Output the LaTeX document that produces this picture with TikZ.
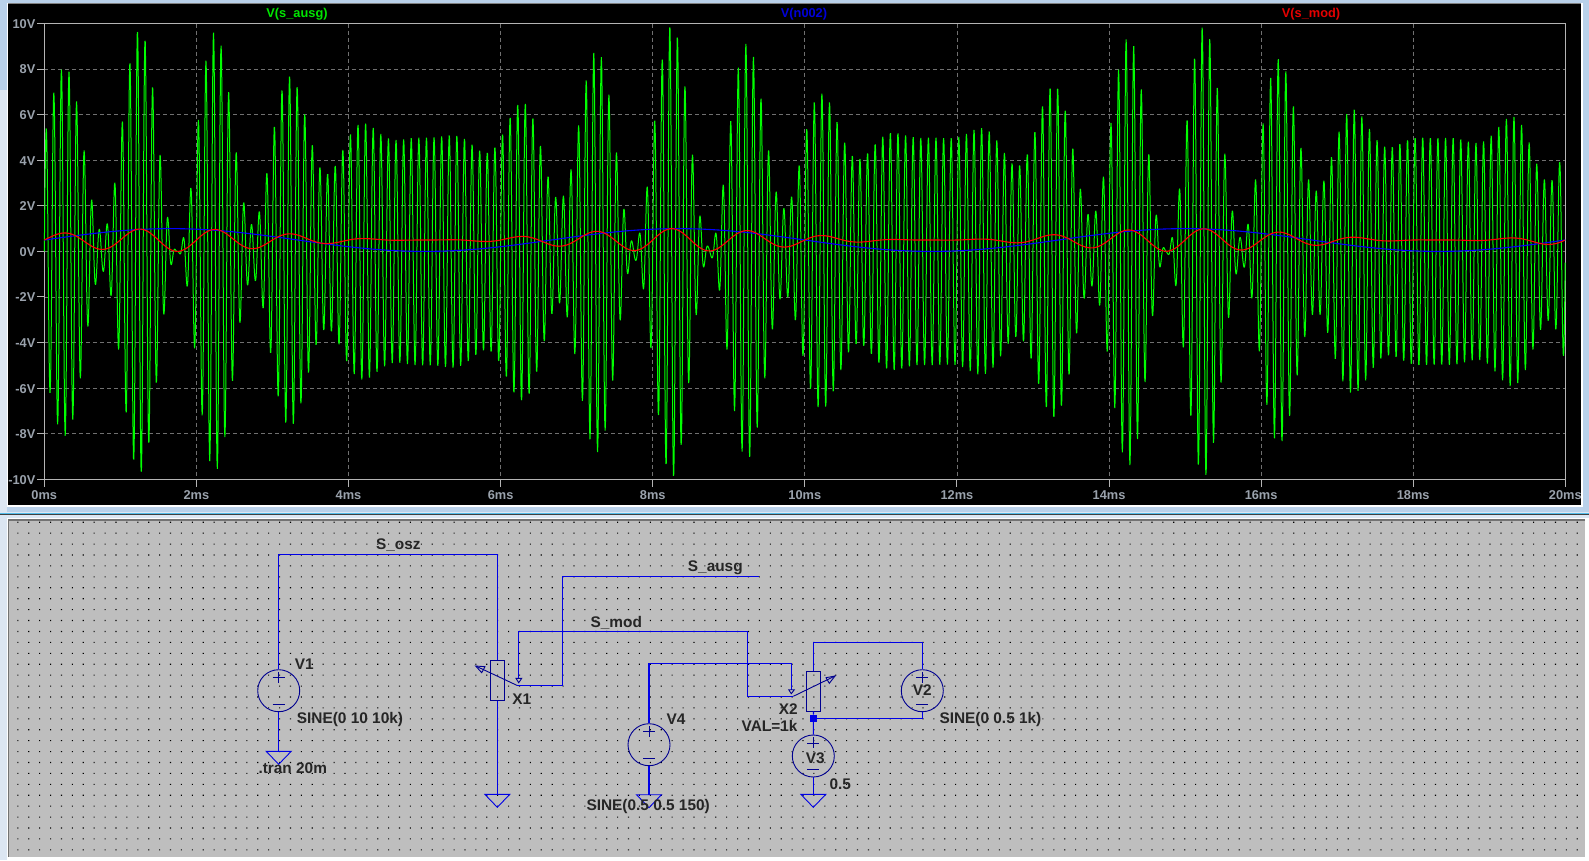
\documentclass[tikz,border=0pt]{standalone}
\usepackage{fontspec}
\setmainfont{Liberation Sans}
\definecolor{winblue}{HTML}{B9D1EA}
\definecolor{winpale}{HTML}{DCE6F2}
\definecolor{sheet}{HTML}{BEBEBE}
\definecolor{gridgray}{HTML}{707070}
\definecolor{axisgray}{HTML}{B4B4B4}
\definecolor{ticklab}{HTML}{9AA2AC}
\definecolor{wireblue}{HTML}{0000E6}
\definecolor{symblue}{HTML}{000090}
\definecolor{tracegreen}{HTML}{00FF00}
\tikzset{
  wire/.style={draw=wireblue,line width=1.1pt},
  sym/.style={draw=symblue,line width=0.9pt},
  vsrc/.style={circle,draw=symblue,line width=0.9pt,minimum size=42pt,inner sep=0pt},
  pot/.style={rectangle,draw=symblue,line width=1pt,minimum width=13.4pt,minimum height=40pt,inner sep=0pt},
  lab/.style={font=\bfseries\fontsize{15.4}{16}\selectfont,text=black!85,inner sep=0pt},
  ticktxt/.style={font=\bfseries\fontsize{12.8}{14}\selectfont,text=ticklab,inner sep=0pt},
  title/.style={font=\bfseries\fontsize{12.8}{14}\selectfont,inner sep=0pt},
  griddash/.style={draw=gridgray,line width=0.8pt,dash pattern=on 4pt off 3pt},
}
\begin{document}
\begin{tikzpicture}[x=1pt,y=-1pt]
\useasboundingbox (0,0) rectangle (1589,860);
% window background
\fill[winblue] (0,0) rectangle (1589,512);
\fill[winpale] (0,90) rectangle (7,512);
\fill[winpale] (0,512) rectangle (1589,860);
\fill[white] (7,3) rectangle (1583,507);
\fill[black] (8,4) rectangle (1581,505);
\fill[gray] (8,3) rectangle (1581,4);
\fill[cyan!60!winblue] (0,512.5) rectangle (1589,514);
\fill[black!75] (0,514) rectangle (1589,515);
% schematic sheet
\fill[white] (7,518) rectangle (1589,860);
\fill[sheet] (8,519) rectangle (1585,857);
\fill[black!55] (8,519) rectangle (1585,520.5);
\fill[black!55] (8,519) rectangle (9,857);
\fill[black]
  \foreach \i in {0,...,143} { \foreach \j in {0,...,30} {
    (17.3+10.905*\i,521.7+10.92*\j) rectangle ++(1.1,1.1) } };
% axes and grid
\foreach \k in {1,...,9} {
  \draw[griddash] (44.3+152.1*\k,23.5) -- (44.3+152.1*\k,479.3);
  \draw[griddash] (44.3,23.5+45.58*\k) -- (1565.3,23.5+45.58*\k);
}
\draw[axisgray,line width=1pt] (44.3,23.5) rectangle (1565.3,479.3);
\foreach \k in {0,...,10} {
  \draw[axisgray,line width=1pt] (37,23.5+45.58*\k) -- (44.3,23.5+45.58*\k);
  \draw[axisgray,line width=1pt] (44.3+152.1*\k,479.3) -- (44.3+152.1*\k,487);
}
\foreach \v [count=\k from 0] in {10V,8V,6V,4V,2V,0V,-2V,-4V,-6V,-8V,-10V}
  \node[ticktxt,anchor=east] (ylab\k) at (35.5,24+45.58*\k) {\v};
\foreach \v [count=\k from 0] in {0ms,2ms,4ms,6ms,8ms,10ms,12ms,14ms,16ms,18ms,20ms}
  \node[ticktxt] (xlab\k) at (44.3+152.1*\k,495.5) {\v};
\node[title,text=tracegreen!90!black] (t1) at (297,14.5) {V(s\_ausg)};
\node[title,text=blue!85!black] (t2) at (804,14.5) {V(n002)};
\node[title,text=red!90!black] (t3) at (1311,14.5) {V(s\_mod)};
% traces
\begin{scope}[shift={(44.3,251.4)},x=76.05pt,y=22.78pt]
\draw[tracegreen,line width=1pt,line join=bevel] plot[domain=0:20,samples=4001]
  (\x,{10*sin(360*frac(10*\x))*(0.5+0.5*sin(360*\x)*(0.5+0.5*sin(54*\x)))});
\draw[blue,line width=1.1pt] plot[domain=0:20,samples=301] (\x,{0.5+0.5*sin(54*\x)});
\draw[red,line width=1.1pt] plot[domain=0:20,samples=601]
  (\x,{0.5+0.5*sin(360*\x)*(0.5+0.5*sin(54*\x))});
\end{scope}
% schematic parts
\node[vsrc] (V1) at (278.7,690.7) {};
\node[vsrc] (V2) at (922.3,690.7) {};
\node[vsrc] (V3) at (813.3,756) {};
\node[vsrc] (V4) at (649,744.7) {};
\node[pot] (X1) at (497.3,680.2) {};
\node[pot] (X2) at (813.5,691) {};
\foreach \s in {V1,V2,V3,V4} {
  \draw[sym] ([yshift=13pt,xshift=-6pt]\s.center) -- ++(12,0);
  \draw[sym] ([yshift=19pt]\s.center) -- ++(0,11);
  \draw[sym] ([yshift=-13.5pt,xshift=-6pt]\s.center) -- ++(12,0);
}
\coordinate (G1) at (278.7,751.3);
\coordinate (G2) at (497.3,794.3);
\coordinate (G3) at (813.3,794.3);
\coordinate (G4) at (649,794.7);
\foreach \g in {G1,G2,G3,G4}
  \draw[sym,draw=wireblue] (\g) ++(-12.5,0) -- ++(25,0) -- ++(-12.5,13) -- cycle;
\node[fill=wireblue,inner sep=0pt,minimum size=7pt] (J1) at (813.3,718.3) {};
% wires
\coordinate (oszTop) at (497.3,554.3);
\coordinate (wip1) at (517.3,685.5);
\coordinate (wip2) at (793.3,696.3);
\coordinate (tip1) at (518.3,678.3);
\coordinate (tip2) at (791.3,689.7);
\coordinate (ausgEnd) at (759,576.3);
\coordinate (modTop) at (747.3,631.7);
\coordinate (v4Top) at (791.3,663.7);
\coordinate (x2Top) at (922.3,642.7);
\draw[wire] (V1.north) |- (oszTop) -- (X1.north);
\draw[wire] (X1.south) -- (G2);
\draw[wire] (V1.south) -- (G1);
\draw[wire] (V4.south) -- (G4);
\draw[wire] (V3.south) -- (G3);
\draw[wire] (wip1) -| (562.7,576.3) -- (ausgEnd);
\draw[wire] (tip1) |- (modTop) |- (wip2);
\draw[wire] (V4.north) |- (v4Top) -- (tip2);
\draw[wire] (X2.north) |- (x2Top) -- (V2.north);
\draw[wire] (V2.south) |- (J1);
\draw[wire] (X2.south) -- (J1) -- (V3.north);
% wiper arrows
\draw[sym] (wip1) -- (475.7,666);
\draw[sym] (475.7,666) -- (485,666.7) -- (481.7,672.7) -- cycle;
\draw[sym] (516,678.3) -- (521.7,678.3) -- (518.7,682.7) -- cycle;
\draw[sym] (wip2) -- (835,676);
\draw[sym] (835,676) -- (826,677.7) -- (829.3,683.3) -- cycle;
\draw[sym] (788.7,689.7) -- (794.3,689.7) -- (791.3,693.7) -- cycle;
% labels
\node[lab] (lV1) at (304.3,664) {V1};
\node[lab] (lV4) at (676,719) {V4};
\node[lab] (lV2) at (922.3,690) {V2};
\node[lab] (lV3) at (815.3,757.7) {V3};
\node[lab] (lX1) at (521.7,699) {X1};
\node[lab] (lX2) at (788.3,709) {X2};
\node[lab,anchor=east] (lVal) at (797.7,726) {VAL=1k};
\node[lab,anchor=west] (lS1) at (296.7,719.3) {SINE(0 10 10k)};
\node[lab,anchor=west] (lTran) at (258.3,768) {.tran 20m};
\node[lab,anchor=west] (lS2) at (939.3,719.7) {SINE(0 0.5 1k)};
\node[lab,anchor=west] (lDc) at (829.3,784) {0.5};
\node[lab,anchor=west] (lS4) at (586.3,806.3) {SINE(0.5 0.5 150)};
\node[lab] (nOsz) at (398.3,545.3) {S\_osz};
\node[lab] (nAusg) at (715.3,567.7) {S\_ausg};
\node[lab] (nMod) at (616.3,622.7) {S\_mod};
\end{tikzpicture}
\end{document}
